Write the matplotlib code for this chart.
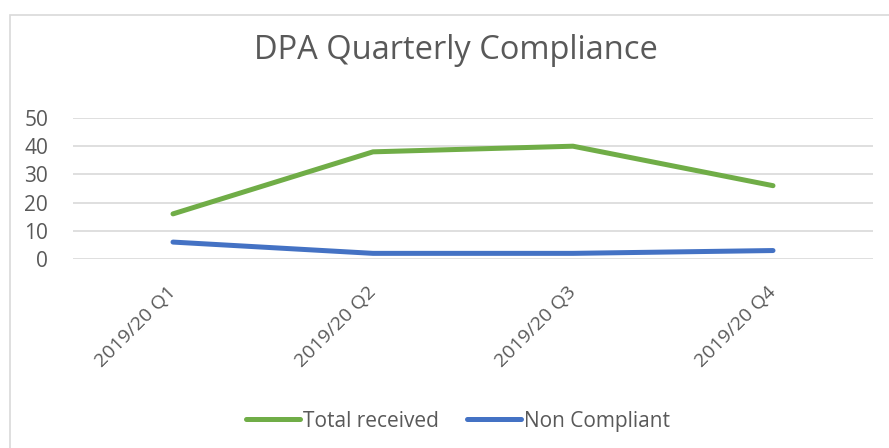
import matplotlib.pyplot as plt
from matplotlib.patches import Rectangle

# Data
quarters = ["2019/20 Q1", "2019/20 Q2", "2019/20 Q3", "2019/20 Q4"]
totalReceived = [16, 38, 40, 26]
nonCompliant = [6, 2, 2, 3]

TEXT_COLOR = "#595959"
plt.rcParams['font.family'] = ['Open Sans', 'DejaVu Sans']

fig = plt.figure(figsize=(8.89, 4.48), dpi=100)
ax = fig.add_axes([73 / 889, 189 / 448, 800 / 889, 141 / 448])

x = list(range(len(quarters)))
ax.plot(x, totalReceived, color="#70AD47", linewidth=3.6, solid_capstyle="round",
        solid_joinstyle="round", label="Total received")
ax.plot(x, nonCompliant, color="#4472C4", linewidth=3.6, solid_capstyle="round",
        solid_joinstyle="round", label="Non Compliant")

ax.set_xlim(-0.5, len(quarters) - 0.5)
ax.set_ylim(0, 50)
ax.set_yticks(range(0, 51, 10))
ax.yaxis.grid(True, color="#D9D9D9", linewidth=1.2)
ax.set_axisbelow(True)
for s in ax.spines.values():
    s.set_visible(False)
ax.tick_params(axis="both", length=0, colors=TEXT_COLOR)
ax.tick_params(axis="y", pad=18, labelsize=15)
ax.set_xticks(x)
ax.set_xticklabels(quarters, rotation=45, ha="right", va="center", rotation_mode="anchor")
ax.tick_params(axis="x", pad=22, labelsize=14)

fig.text(0.513, 0.888, "DPA Quarterly Compliance", ha="center", va="center",
         fontsize=23.5, color=TEXT_COLOR)

leg = fig.legend(loc="center", bbox_to_anchor=(0.515, 0.06), ncol=2, frameon=False,
                 fontsize=15, handlelength=2.6, columnspacing=1.35, handletextpad=0.15)
for t in leg.get_texts():
    t.set_color(TEXT_COLOR)

fig.patches.append(Rectangle((10 / 889, -0.05), 1.0, 1.0 - 15 / 448 + 0.05,
                             transform=fig.transFigure, fill=False,
                             edgecolor="#D9D9D9", linewidth=1.2))

fig.savefig("out.png", dpi=100)
